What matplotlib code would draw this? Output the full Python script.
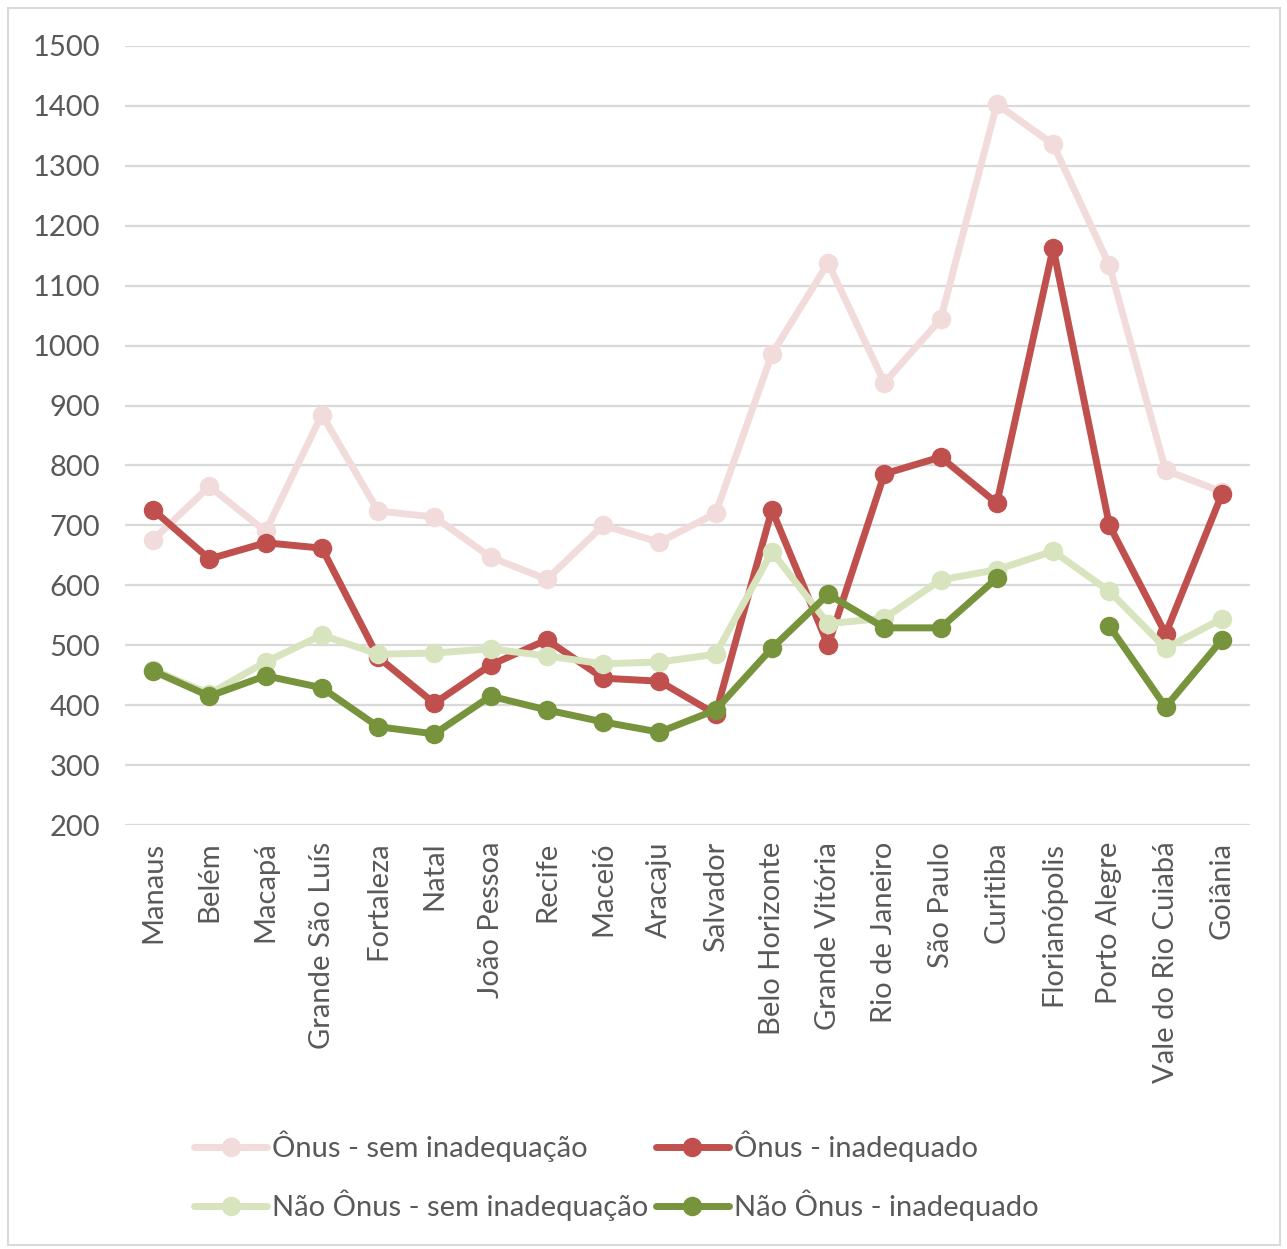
import numpy as np
import matplotlib
matplotlib.use("Agg")
from matplotlib import pyplot as plt
from matplotlib.patches import Rectangle

cities = ["Manaus", "Belém", "Macapá", "Grande São Luís", "Fortaleza", "Natal",
          "João Pessoa", "Recife", "Maceió", "Aracaju", "Salvador",
          "Belo Horizonte", "Grande Vitória", "Rio de Janeiro", "São Paulo",
          "Curitiba", "Florianópolis", "Porto Alegre", "Vale do Rio Cuiabá",
          "Goiânia"]

onus_sem = [676, 765, 690, 885, 724, 714, 647, 610, 700, 672, 720,
            986, 1138, 938, 1044, 1403, 1336, 1134, 792, 756]
onus_inad = [726, 644, 671, 662, 480, 403, 467, 509, 445, 440, 385,
             726, 500, 786, 814, 737, 1163, 700, 519, 752]
nao_onus_sem = [459, 419, 472, 517, 485, 487, 494, 482, 469, 472, 485,
                656, 536, 545, 609, 626, 657, 590, 495, 544]
nao_onus_inad = [457, 415, 449, 429, 364, 352, 415, 392, 372, 355, 392,
                 495, 585, 529, 529, 612, np.nan, 532, 397, 509]

series = [
    ("Ônus - sem inadequação", onus_sem, "#F2DCDB"),
    ("Ônus - inadequado", onus_inad, "#C0504D"),
    ("Não Ônus - sem inadequação", nao_onus_sem, "#D7E4BD"),
    ("Não Ônus - inadequado", nao_onus_inad, "#77933C"),
]

plt.rcParams["font.family"] = ["Lato", "DejaVu Sans"]
text_color = "#595959"
fs = 21

W, H = 1287, 1249
fig = plt.figure(figsize=(W / 100, H / 100), dpi=100)
fig.patches.append(Rectangle((8 / W, 4 / H), 1272 / W, 1237 / H,
                             transform=fig.transFigure, fill=False,
                             edgecolor="#D9D9D9", linewidth=1.5))

ax = fig.add_axes([125 / W, (H - 825) / H, 1125 / W, 779 / H])
x = np.arange(len(cities))
handles = []
for name, vals, color in series:
    h, = ax.plot(x, vals, color=color, linewidth=5, marker="o",
                 markersize=13, solid_capstyle="round", label=name)
    handles.append(h)

ax.set_xlim(-0.5, len(cities) - 0.5)
ax.set_ylim(200, 1500)
ax.set_yticks(np.arange(200, 1501, 100))
ax.set_xticks(x)
ax.set_xticklabels(cities, rotation=90, fontsize=fs, color=text_color)
ax.tick_params(axis="y", labelsize=fs, labelcolor=text_color, length=0, pad=18)
ax.tick_params(axis="x", length=0, pad=12)
ax.grid(axis="y", color="#D9D9D9", linewidth=1.6)
ax.set_axisbelow(True)
for s in ax.spines.values():
    s.set_visible(False)

# legend fills column-wise, so order handles to read row by row
order = [0, 2, 1, 3]
fig.legend(handles=[handles[i] for i in order], loc="upper left",
           bbox_to_anchor=(168 / W, 1 - 1104 / H), ncol=2, frameon=False,
           fontsize=fs, labelcolor=text_color, handlelength=2.5,
           handletextpad=0.17, columnspacing=0.25, labelspacing=0.95)

fig.savefig("out.png", dpi=100)
